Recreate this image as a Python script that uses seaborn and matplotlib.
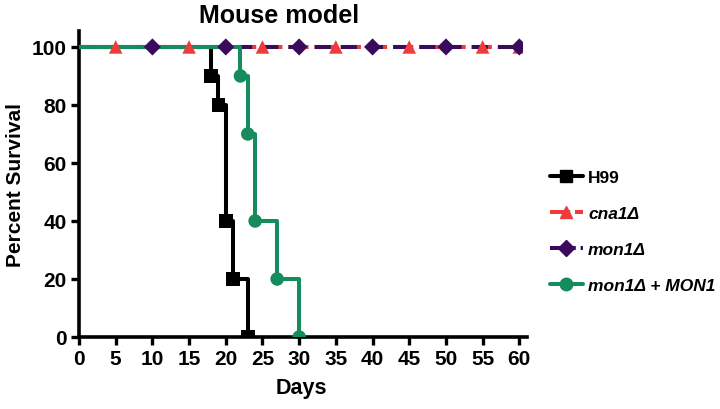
import matplotlib
matplotlib.use("Agg")
import matplotlib.pyplot as plt
import seaborn as sns
import pandas as pd
from matplotlib.lines import Line2D

sns.set_style("white")
plt.rcParams['font.family'] = ['Liberation Sans', 'DejaVu Sans']
plt.rcParams['font.weight'] = 'bold'
plt.rcParams['text.color'] = 'black'
plt.rcParams['axes.labelcolor'] = 'black'
plt.rcParams['xtick.color'] = 'black'
plt.rcParams['ytick.color'] = 'black'

# ---- data ----
h99_days = [0, 18, 19, 20, 21, 23]
h99_surv = [100, 90, 80, 40, 20, 0]
comp_days = [0, 22, 23, 24, 27, 30]
comp_surv = [100, 90, 70, 40, 20, 0]
cna1_line_days = [0, 60]
cna1_line_surv = [100, 100]
cna1_mark_days = [5, 15, 25, 35, 45, 55, 60]
mon1_line_days = [0, 60]
mon1_line_surv = [100, 100]
mon1_mark_days = [10, 20, 30, 40, 50, 60]
labels = ["H99", "cna1Δ", "mon1Δ", "mon1Δ + MON1"]
title = "Mouse model"
x_ticks = list(range(0, 61, 5))
y_ticks = [0, 20, 40, 60, 80, 100]

c_black = "#000000"
c_red = "#EE3B3B"
c_purple = "#3A0B5C"
c_green = "#168B5D"

fig = plt.figure(figsize=(7.2, 4.1), dpi=100)
ax = fig.add_axes([79/720, (410-338)/410, (523-79)/720, (338-32)/410])

lw = 2.9
# lines
sns.lineplot(x=cna1_line_days, y=cna1_line_surv, ax=ax, color=c_red, lw=lw,
             linestyle=(0, (5, 1.5)), zorder=2)
sns.lineplot(x=mon1_line_days, y=mon1_line_surv, ax=ax, color=c_purple, lw=lw,
             linestyle=(0, (4, 2.5)), zorder=3)
sns.lineplot(x=h99_days, y=h99_surv, ax=ax, color=c_black, lw=lw,
             drawstyle='steps-post', zorder=4)
sns.lineplot(x=comp_days, y=comp_surv, ax=ax, color=c_green, lw=lw,
             drawstyle='steps-post', zorder=5)

# markers
ms = 95
sns.scatterplot(x=h99_days[1:], y=h99_surv[1:], ax=ax, color=c_black, marker='s',
                s=ms, edgecolor='none', zorder=6)
sns.scatterplot(x=comp_days[1:], y=comp_surv[1:], ax=ax, color=c_green, marker='o',
                s=ms, edgecolor='none', zorder=6)
sns.scatterplot(x=cna1_mark_days, y=[100]*len(cna1_mark_days), ax=ax, color=c_red,
                marker='^', s=ms, edgecolor='none', zorder=6)
sns.scatterplot(x=mon1_mark_days, y=[100]*len(mon1_mark_days), ax=ax, color=c_purple,
                marker='D', s=ms*0.8, edgecolor='none', zorder=7)

ax.set_xlim(0, 60.5)
ax.set_ylim(0, 105.5)
ax.set_xticks(x_ticks)
ax.set_yticks(y_ticks)
ax.tick_params(axis='both', direction='out', length=6, width=2.4, labelsize=15,
               pad=3, bottom=True, left=True)
for lab in ax.get_xticklabels() + ax.get_yticklabels():
    lab.set_fontweight('bold')
for s in ['top', 'right']:
    ax.spines[s].set_visible(False)
for s in ['left', 'bottom']:
    ax.spines[s].set_linewidth(2.6)
    ax.spines[s].set_color('black')
ax.spines['bottom'].set_bounds(0, 61)
ax.set_xlabel("Days", fontsize=15.5, fontweight='bold', labelpad=6)
ax.set_ylabel("Percent Survival", fontsize=15, fontweight='bold', labelpad=5)
fig.text(279/720, 1-16/410, title, ha='center', va='center', fontsize=18, fontweight='bold')

handles = [
    Line2D([], [], color=c_black, lw=lw, marker='s', markersize=9),
    Line2D([], [], color=c_red, lw=lw, marker='^', markersize=9, linestyle=(0, (5, 1.2))),
    Line2D([], [], color=c_purple, lw=lw, marker='D', markersize=8, linestyle=(0, (2.6, 1.2))),
    Line2D([], [], color=c_green, lw=lw, marker='o', markersize=9),
]
leg = fig.legend(handles, labels, loc='upper left', bbox_to_anchor=(543/720, 1-164/410),
                 frameon=False, fontsize=12.5, handlelength=1.9, handletextpad=0.3,
                 labelspacing=1.2, borderaxespad=0)
for i, t in enumerate(leg.get_texts()):
    t.set_fontweight('bold')
    if i > 0:
        t.set_fontstyle('italic')

fig.savefig("out.png", dpi=100)
